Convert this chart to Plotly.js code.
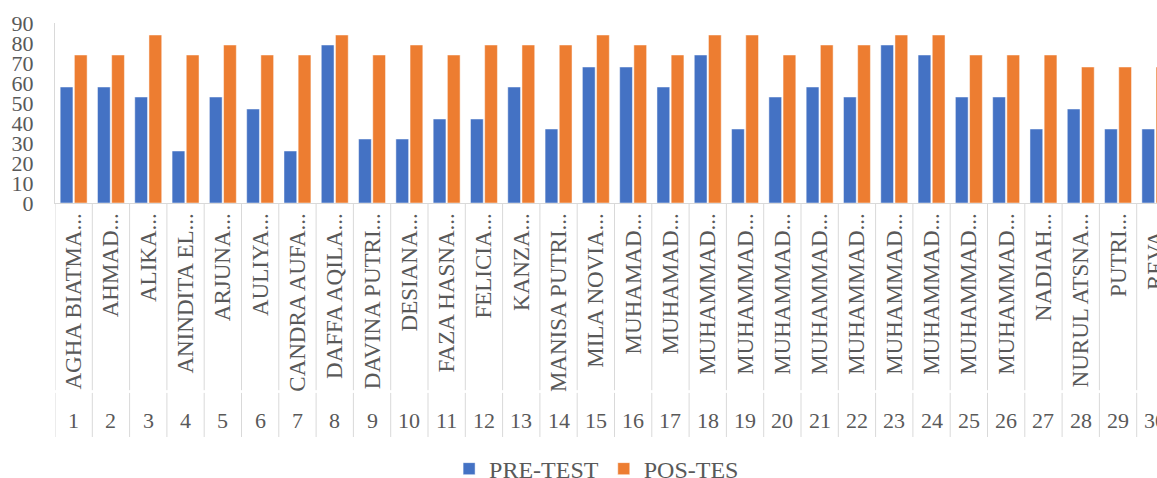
<!DOCTYPE html>
<html>
<head>
<meta charset="utf-8">
<script src="https://cdn.plot.ly/plotly-3.0.1.min.js"></script>
<style>
html,body{margin:0;padding:0;overflow:hidden;background:#fff;}
#chart{width:1210px;height:520px;}
</style>
</head>
<body>
<div id="chart"></div>
<script>
const numbers = ["1","2","3","4","5","6","7","8","9","10","11","12","13","14","15","16","17","18","19","20","21","22","23","24","25","26","27","28","29","30"];
const names = ["AGHA BIATMA...","AHMAD...","ALIKA...","ANINDITA EL...","ARJUNA...","AULIYA...","CANDRA AUFA...","DAFFA AQILA...","DAVINA PUTRI...","DESIANA...","FAZA HASNA...","FELICIA...","KANZA...","MANISA PUTRI...","MILA NOVIA...","MUHAMAD...","MUHAMAD...","MUHAMMAD...","MUHAMMAD...","MUHAMMAD...","MUHAMMAD...","MUHAMMAD...","MUHAMMAD...","MUHAMMAD...","MUHAMMAD...","MUHAMMAD...","NADIAH...","NURUL ATSNA...","PUTRI...","REVA..."];
const preTest = [58,58,53,26,53,47,26,79,32,32,42,42,58,37,68,68,58,74,37,53,58,53,79,74,53,53,37,47,37,37];
const posTes = [74,74,84,74,79,74,74,84,74,79,74,79,79,79,84,79,74,84,84,74,79,79,84,84,74,74,74,68,68,68];
const seriesNames = ["PRE-TEST","POS-TES"];

const fam = '"Liberation Serif", "Times New Roman", serif';
const grey = '#595959';
const lineGrey = '#D9D9D9';

const traces = [
  {type:'bar', name:seriesNames[0], x:numbers, y:preTest,
   marker:{color:'#4472C4', line:{color:'rgba(255,255,255,0.6)', width:0.8}}},
  {type:'bar', name:seriesNames[1], x:numbers, y:posTes,
   marker:{color:'#ED7D31', line:{color:'rgba(255,255,255,0.6)', width:0.8}}}
];

// outer-level labels (row numbers) under the rotated names, placed at each category index
const annotations = numbers.map((n, i) => ({
  x:i, xref:'x', y:-1.211, yref:'paper', yanchor:'middle', xanchor:'center',
  text:n, showarrow:false, font:{family:fam, size:22, color:grey}
}));

// category separators spanning both label levels
const shapes = [];
for (let i = 0; i <= numbers.length; i++) {
  shapes.push({type:'line', xref:'x', yref:'paper', x0:i-0.5, x1:i-0.5, y0:0, y1:-1.04,
               line:{color:lineGrey, width:1}});
  shapes.push({type:'line', xref:'x', yref:'paper', x0:i-0.5, x1:i-0.5, y0:-1.055, y1:-1.3,
               line:{color:lineGrey, width:1}});
}

const layout = {
  width:1210, height:520,
  margin:{l:55, r:36, t:23, b:317},
  paper_bgcolor:'#fff', plot_bgcolor:'#fff',
  font:{family:fam, color:grey, size:20},
  barmode:'group', bargap:0.24, bargroupgap:0.1,
  showlegend:true,
  legend:{orientation:'h', x:0.484, xanchor:'center', y:-1.478, yanchor:'middle',
          font:{family:fam, size:24, color:grey}, itemwidth:30, traceorder:'normal'},
  xaxis:{type:'category', range:[-0.5, numbers.length-0.5],
         tickmode:'array', tickvals:numbers, ticktext:names,
         tickangle:-90, showgrid:false, zeroline:false,
         automargin:false, ticklabelstandoff:0,
         showline:true, linecolor:lineGrey, linewidth:1, ticks:'',
         tickfont:{family:fam, size:23, color:grey}},
  yaxis:{range:[0,90], dtick:10, showgrid:false, zeroline:false,
         automargin:false, ticklabelstandoff:16,
         showline:true, linecolor:lineGrey, linewidth:1, ticks:'',
         tickfont:{family:fam, size:22, color:grey}},
  annotations:annotations,
  shapes:shapes
};
Plotly.newPlot('chart', traces, layout, {displayModeBar:false, staticPlot:true});
</script>
</body>
</html>
